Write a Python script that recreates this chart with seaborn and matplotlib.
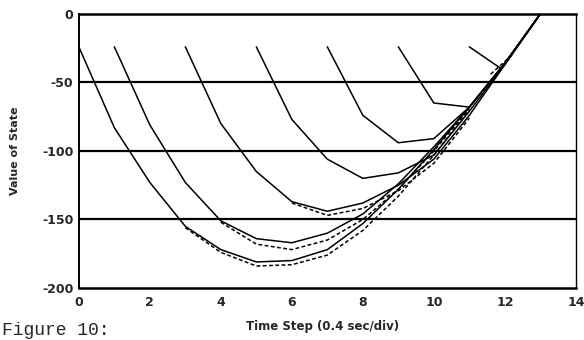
import numpy as np
import pandas as pd
import matplotlib
matplotlib.use("Agg")
import matplotlib.pyplot as plt
import seaborn as sns

# trajectories, one solid curve per start step
t_c0 = [0, 1, 2, 3, 4, 5, 6, 7, 8, 9, 10, 11, 12, 13]
v_c0 = [-24, -83, -123, -155, -172, -181, -180, -172, -153, -128, -99, -68, -36, 0]
t_c1 = [1, 2, 3, 4, 5, 6, 7, 8, 9, 10, 11, 12, 13]
v_c1 = [-24, -81, -123, -151, -164, -167, -160, -146, -124, -97, -68, -36, 0]
t_c3 = [3, 4, 5, 6, 7, 8, 9, 10, 11, 12, 13]
v_c3 = [-24, -80, -115, -137, -144, -138, -125, -106, -74, -37, 0]
t_c5 = [5, 6, 7, 8, 9, 10, 11, 12, 13]
v_c5 = [-24, -77, -106, -120, -116, -103, -71, -37, 0]
t_c7 = [7, 8, 9, 10, 11, 12, 13]
v_c7 = [-24, -74, -94, -91, -68, -36, 0]
t_c9 = [9, 10, 11, 12, 13]
v_c9 = [-24, -65, -68, -36, 0]
t_c11 = [11, 11.9, 13]
v_c11 = [-24, -40, 0]

# dashed companions of the lower curves
t_d0 = [3, 4, 5, 6, 7, 8, 9, 10, 11]
v_d0 = [-156, -174, -184, -183, -176, -158, -133, -103, -70]
t_d1 = [4, 5, 6, 7, 8, 9, 10, 11]
v_d1 = [-152, -168, -172, -165, -150, -128, -100, -69]
t_d3 = [6, 7, 8, 9, 10, 11]
v_d3 = [-138, -147, -142, -129, -109, -76]
t_d11 = [11.6, 12.2]
v_d11 = [-44, -30]

solid = [(t_c0, v_c0), (t_c1, v_c1), (t_c3, v_c3), (t_c5, v_c5),
         (t_c7, v_c7), (t_c9, v_c9), (t_c11, v_c11)]
dashed = [(t_d0, v_d0), (t_d1, v_d1), (t_d3, v_d3), (t_d11, v_d11)]

grid_levels = [-50, -100, -150]
x_ticks = [0, 2, 4, 6, 8, 10, 12, 14]
y_ticks = [0, -50, -100, -150, -200]

sns.set_style("white")
plt.rcParams["font.family"] = ["DejaVu Sans"]

fig = plt.figure(figsize=(5.84, 3.40), dpi=100)
ax = fig.add_axes([0.135, 0.153, 0.851, 0.806])

for y in grid_levels:
    ax.axhline(y, color="black", lw=1.6, zorder=1)

for t, v in solid:
    sns.lineplot(x=t, y=v, ax=ax, color="black", lw=1.1, sort=False, zorder=3)
for t, v in dashed:
    sns.lineplot(x=t, y=v, ax=ax, color="black", lw=1.1, sort=False,
                 linestyle=(0, (2.5, 1.6)), zorder=3)

ax.set_xlim(0, 14)
ax.set_ylim(-200, 0)
ax.set_xticks(x_ticks)
ax.set_yticks(y_ticks)
ax.set_xticklabels([str(x) for x in x_ticks], fontsize=9, fontweight="bold")
ax.set_yticklabels([str(y) for y in y_ticks], fontsize=9, fontweight="bold")
ax.tick_params(axis="x", length=0, pad=6)
ax.tick_params(axis="y", length=0, pad=4)

for side, w in [("left", 1.4), ("top", 1.8), ("bottom", 1.8), ("right", 1.0)]:
    ax.spines[side].set_color("black")
    ax.spines[side].set_linewidth(w)

ax.set_xlabel("Time Step (0.4 sec/div)", fontsize=8.5, fontweight="bold")
ax.xaxis.set_label_coords(0.49, -0.118)
ax.set_ylabel("Value of State", fontsize=8, fontweight="bold")
ax.yaxis.set_label_coords(-0.119, 0.5)

fig.text(0.004, 0.004, "Figure 10:", fontsize=13, family="Liberation Mono",
         va="bottom", ha="left")

fig.savefig("out.png", dpi=100)
